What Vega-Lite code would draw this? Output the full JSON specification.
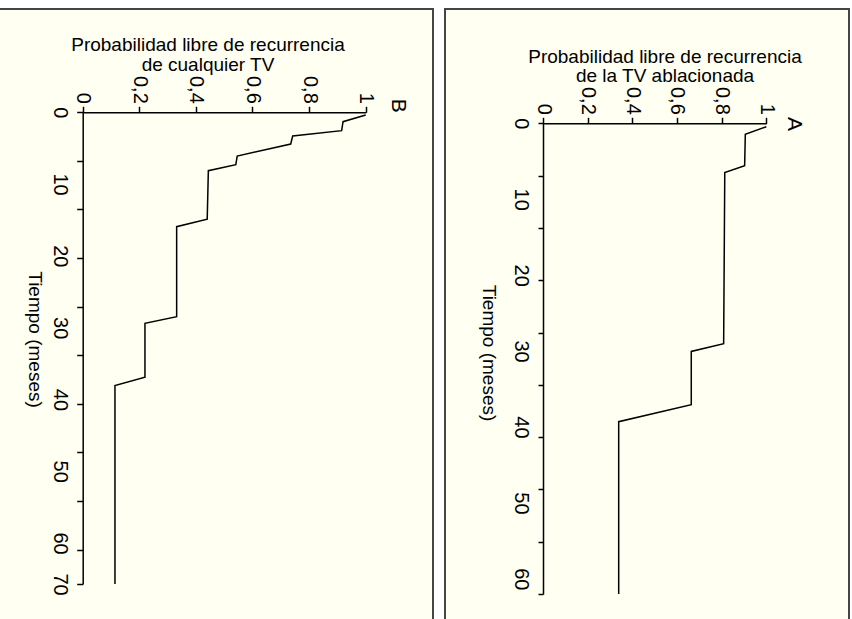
{
  "$schema": "https://vega.github.io/schema/vega-lite/v6.json",
  "background": "white",
  "padding": {"left": -3, "top": 8, "right": 4, "bottom": -10},
  "spacing": 10,
  "config": {
    "view": {"fill": "#FFFFF2", "stroke": "#454545", "strokeWidth": 2},
    "font": "Liberation Sans",
    "text": {"font": "Liberation Sans", "color": "black"},
    "axis": {
      "grid": false,
      "domainColor": "black",
      "domainWidth": 1.5,
      "tickColor": "black",
      "tickWidth": 1.5,
      "labelColor": "black",
      "titleColor": "black",
      "labelFont": "Liberation Sans",
      "titleFont": "Liberation Sans",
      "labelFontSize": 20,
      "titleFontSize": 19,
      "titleFontWeight": "normal",
      "labelOverlap": false,
      "labelFlush": false
    }
  },
  "datasets": {
    "anyVT": [
      {"months": 0.38, "prob": 1.0},
      {"months": 1.31, "prob": 0.92},
      {"months": 2.56, "prob": 0.915},
      {"months": 3.3, "prob": 0.742},
      {"months": 4.42, "prob": 0.735},
      {"months": 6.09, "prob": 0.546},
      {"months": 7.3, "prob": 0.541},
      {"months": 8.13, "prob": 0.444},
      {"months": 14.9, "prob": 0.44},
      {"months": 15.93, "prob": 0.332},
      {"months": 28.47, "prob": 0.332},
      {"months": 29.39, "prob": 0.22},
      {"months": 36.9, "prob": 0.22},
      {"months": 38.08, "prob": 0.114},
      {"months": 70, "prob": 0.114}
    ],
    "ablatedVT": [
      {"months": 0.45, "prob": 1.0},
      {"months": 1.45, "prob": 0.906},
      {"months": 5.58, "prob": 0.903},
      {"months": 6.5, "prob": 0.814},
      {"months": 29.04, "prob": 0.809},
      {"months": 30.05, "prob": 0.664},
      {"months": 37.07, "prob": 0.664},
      {"months": 39.3, "prob": 0.339},
      {"months": 62, "prob": 0.339}
    ]
  },
  "hconcat": [
    {
      "width": 435,
      "height": 620,
      "resolve": {"axis": {"y": "independent"}},
      "layer": [
        {
          "data": {"name": "anyVT"},
          "mark": {"type": "line", "color": "black", "strokeWidth": 1.5},
          "encoding": {
            "x": {
              "field": "prob",
              "type": "quantitative",
              "scale": {"domain": [0, 1], "range": [84.7, 367.7], "nice": false, "zero": false},
              "axis": {
                "orient": "top",
                "offset": -103.3,
                "values": [0, 0.2, 0.4, 0.6, 0.8, 1],
                "labelAngle": 90,
                "labelAlign": "right",
                "labelBaseline": "middle",
                "labelOverlap": false,
                "tickSize": 6,
                "labelPadding": 3,
                "labelExpr": "replace(format(datum.value, '~g'), '.', ',')",
                "title": ["Probabilidad libre de recurrencia", "de cualquier TV"],
                "titleX": 209.5,
                "titlePadding": 1,
                "titleLineHeight": 20
              }
            },
            "y": {
              "field": "months",
              "type": "quantitative",
              "scale": {"domain": [0, 60, 70], "range": [103.3, 534, 575], "nice": false, "zero": false},
              "axis": {
                "orient": "left",
                "offset": -84.7,
                "values": [0, 10, 20, 30, 40, 50, 60, 70],
                "labelAngle": 90,
                "labelAlign": "center",
                "labelBaseline": "top",
                "labelOverlap": false,
                "tickSize": 6,
                "labelPadding": 7,
                "labelExpr": "format(datum.value, 'd')",
                "tickOpacity": {"condition": {"test": "datum.value > 0 && datum.value < 70", "value": 0}, "value": 1},
                "title": "Tiempo (meses)",
                "titleAngle": 90,
                "titleBaseline": "top",
                "titleAlign": "center",
                "titleY": 330,
                "titlePadding": 6
              }
            },
            "order": {"field": "months"}
          }
        },
        {
          "data": {"values": [{"panel": "B"}]},
          "mark": {"type": "text", "angle": 90, "fontSize": 21, "align": "center", "baseline": "middle"},
          "encoding": {
            "x": {"datum": 1.114},
            "y": {
              "datum": -0.9,
              "axis": {
                "orient": "left",
                "offset": -84.7,
                "values": [6.77, 13.54, 20.31, 27.08, 33.84, 40.61, 47.38, 54.15, 61.6],
                "labels": false,
                "domain": false,
                "tickSize": 6,
                "title": null
              }
            },
            "text": {"field": "panel"}
          }
        }
      ]
    },
    {
      "width": 404,
      "height": 620,
      "resolve": {"axis": {"y": "independent"}},
      "layer": [
        {
          "data": {"name": "ablatedVT"},
          "mark": {"type": "line", "color": "black", "strokeWidth": 1.5},
          "encoding": {
            "x": {
              "field": "prob",
              "type": "quantitative",
              "scale": {"domain": [0, 1], "range": [98, 321.3], "nice": false, "zero": false},
              "axis": {
                "orient": "top",
                "offset": -114.3,
                "values": [0, 0.2, 0.4, 0.6, 0.8, 1],
                "labelAngle": 90,
                "labelAlign": "right",
                "labelBaseline": "middle",
                "labelOverlap": false,
                "tickSize": 6,
                "labelPadding": 3,
                "labelExpr": "replace(format(datum.value, '~g'), '.', ',')",
                "title": ["Probabilidad libre de recurrencia", "de la TV ablacionada"],
                "titleX": 219.5,
                "titlePadding": 1,
                "titleLineHeight": 19
              }
            },
            "y": {
              "field": "months",
              "type": "quantitative",
              "scale": {"domain": [0, 62], "range": [114.3, 585], "nice": false, "zero": false},
              "axis": {
                "orient": "left",
                "offset": -98,
                "values": [0, 10, 20, 30, 40, 50, 60],
                "labelAngle": 90,
                "labelAlign": "center",
                "labelBaseline": "top",
                "labelOverlap": false,
                "tickSize": 5,
                "labelPadding": 8,
                "labelExpr": "format(datum.value, 'd')",
                "tickOpacity": {"condition": {"test": "datum.value > 0", "value": 0}, "value": 1},
                "title": "Tiempo (meses)",
                "titleAngle": 90,
                "titleBaseline": "top",
                "titleAlign": "center",
                "titleY": 343.5,
                "titlePadding": 13
              }
            },
            "order": {"field": "months"}
          }
        },
        {
          "data": {"values": [{"panel": "A"}]},
          "mark": {"type": "text", "angle": 90, "fontSize": 21, "align": "center", "baseline": "middle"},
          "encoding": {
            "x": {"datum": 1.123},
            "y": {
              "datum": 0.1,
              "axis": {
                "orient": "left",
                "offset": -98,
                "values": [6.89, 13.78, 20.67, 27.56, 34.44, 41.33, 48.22, 55.11, 62],
                "labels": false,
                "domain": false,
                "tickSize": 5,
                "title": null
              }
            },
            "text": {"field": "panel"}
          }
        }
      ]
    }
  ]
}
